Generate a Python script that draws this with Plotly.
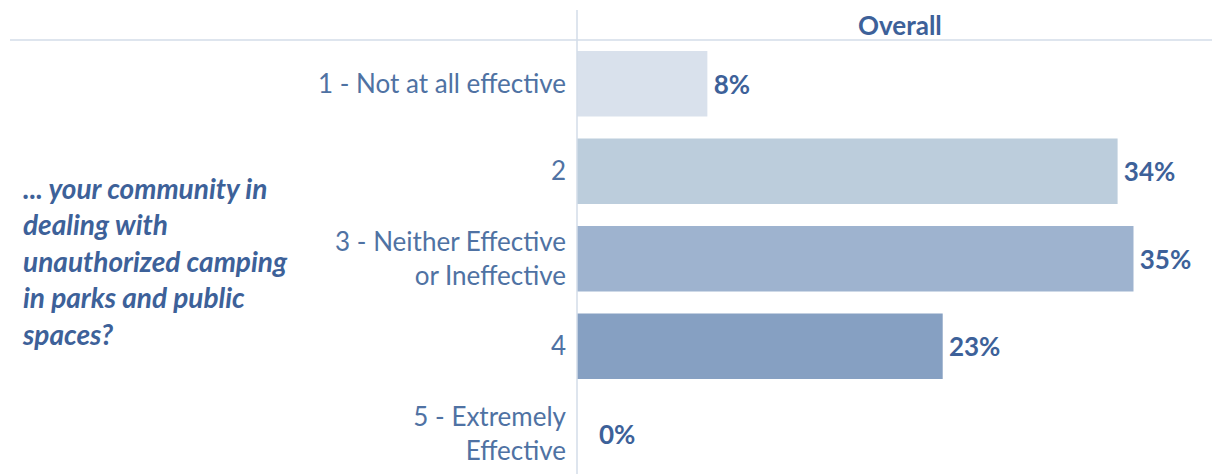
import plotly.graph_objects as go

categories = ["1 - Not at all effective", "2", "3 - Neither Effective<br>or Ineffective", "4", "5 - Extremely<br>Effective"]
values = [8.2, 34.0, 35.0, 23.0, 0.0]
labels = ["8%", "34%", "35%", "23%", "0%"]
bar_colors = ["#d9e1ec", "#bccddc", "#9eb3cf", "#86a0c2", "#7590b8"]
question = "... your community in<br>dealing with<br>unauthorized camping<br>in parks and public<br>spaces?"
header = "Overall"

OFF = 8  # page body margin
W, H = 1220 - OFF, 474 - OFF
L, R, T, B = 577 - OFF, 2, 40 - OFF, 0
FONT = "Lato"
DARK = "#3d6199"
TICK = "#4f72a3"
LINE = "#d3dde9"

shown = [("\u00a0" * 3 if v == 0 else "\u2009") + s for v, s in zip(values, labels)]

fig = go.Figure(go.Bar(
    x=values, y=categories, orientation="h",
    marker=dict(color=bar_colors, line=dict(width=0)),
    text=shown, textposition="outside", cliponaxis=False,
    textfont=dict(family=FONT, size=26, color=DARK, weight="bold"),
    width=0.75,
))

pw = W - L - R
ph = H - T - B
xmax = pw / 15.9

fig.update_layout(
    width=W, height=H,
    margin=dict(l=L, r=R, t=T, b=B),
    plot_bgcolor="white", paper_bgcolor="white",
    showlegend=False,
    font=dict(family=FONT),
    xaxis=dict(range=[0, xmax], showgrid=False, zeroline=False, showticklabels=False, ticks=""),
    yaxis=dict(categoryorder="array", categoryarray=categories, range=[4.46, -0.5],
               showgrid=False, zeroline=False, ticks="", ticklabelstandoff=10,
               tickfont=dict(family=FONT, size=26, color=TICK)),
)

fig.add_shape(type="line", xref="paper", yref="paper",
              x0=0, x1=0, y0=0, y1=1 + 30 / ph,
              line=dict(color=LINE, width=1.5))
fig.add_shape(type="line", xref="paper", yref="paper",
              x0=(10 - 577) / pw, x1=1, y0=1, y1=1,
              line=dict(color=LINE, width=1.5))

fig.add_annotation(text=header, xref="paper", yref="paper",
                   x=(900 - 577) / pw, y=1 + 15 / ph, xanchor="center", yanchor="middle",
                   showarrow=False, font=dict(family=FONT, size=26, color=DARK, weight="bold"))

fig.add_annotation(text="<i><b>" + question + "</b></i>", xref="paper", yref="paper",
                   x=(20 - 577) / pw, y=1 - (261 - 40) / ph, xanchor="left", yanchor="middle",
                   align="left", showarrow=False,
                   font=dict(family=FONT, size=28, color=DARK))

fig.write_html("out.html")
